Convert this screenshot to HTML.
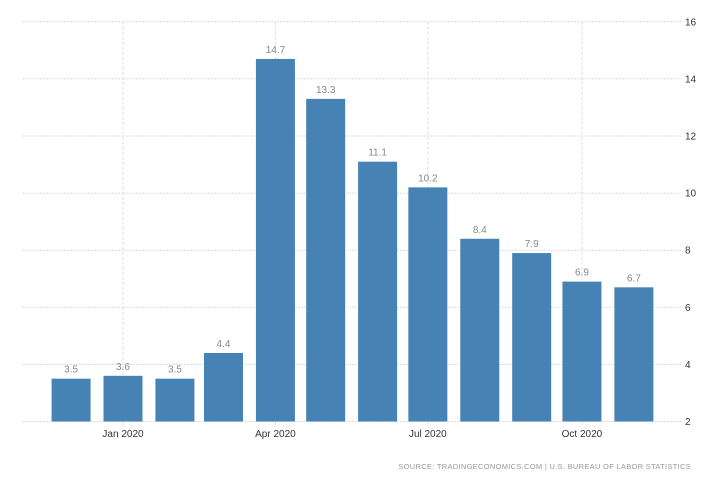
<!DOCTYPE html>
<html><head><meta charset="utf-8"><style>
html,body{margin:0;padding:0;background:#fff;width:728px;height:485px;overflow:hidden}
svg text{font-family:"Liberation Sans",sans-serif}
</style></head><body>
<svg id="chart" width="728" height="485" xmlns="http://www.w3.org/2000/svg">
<g id="grid"></g>
<g id="bars"></g>
<g id="yaxis"></g>
<g id="xaxis"></g>
<text x="691" y="469" text-anchor="end" font-size="7.5" fill="#999" letter-spacing="0.3">SOURCE: TRADINGECONOMICS.COM  |  U.S. BUREAU OF LABOR STATISTICS</text>
</svg>
<script>
const months = ["2019-12","2020-01","2020-02","2020-03","2020-04","2020-05","2020-06","2020-07","2020-08","2020-09","2020-10","2020-11"];
const values = [3.5,3.6,3.5,4.4,14.7,13.3,11.1,10.2,8.4,7.9,6.9,6.7];
const yTicks = [2,4,6,8,10,12,14,16];
const xTickMonths = ["2020-01","2020-04","2020-07","2020-10"];
const xTickLabels = ["Jan 2020","Apr 2020","Jul 2020","Oct 2020"];

const NS="http://www.w3.org/2000/svg";
const y0=421.5, pxPerUnit=28.55, yMin=2;
function y(v){return y0-(v-yMin)*pxPerUnit;}
const base=Date.UTC(2020,0,1);
function x(m){const [a,b]=m.split("-").map(Number);return 123+(Date.UTC(a,b-1,1)-base)/86400000*1.675;}
function mk(t,attrs,parent){const e=document.createElementNS(NS,t);for(const k in attrs)e.setAttribute(k,attrs[k]);parent.appendChild(e);return e;}
const grid=document.getElementById('grid'),bars=document.getElementById('bars'),ya=document.getElementById('yaxis'),xa=document.getElementById('xaxis');
yTicks.forEach(t=>{
  const l=mk('line',{x1:22,x2:682,y1:y(t),y2:y(t),stroke:'#ddd','stroke-dasharray':'2,1'},grid);
  
  
  const tx=mk('text',{x:685,y:y(t)+3.5,'font-size':10,fill:'#333'},ya);
  
  
  tx.textContent=t;
});
xTickMonths.forEach((m,i)=>{
  const l=mk('line',{x1:x(m),x2:x(m),y1:y(16),y2:y(2)+5,stroke:'#ddd','stroke-dasharray':'3,2'},grid);
  
  
  const tx=mk('text',{x:x(m),y:437,'font-size':10,fill:'#333','text-anchor':'middle'},xa);
  
  
  tx.textContent=xTickLabels[i];
});
months.forEach((m,i)=>{
  const cx=x(m),v=values[i];
  const r=mk('rect',{x:cx-19.5,y:y(v),width:39,height:y(yMin)-y(v),fill:'#4682b4'},bars);
  
  
  const tx=mk('text',{x:cx,y:y(v)-6,'font-size':10,fill:'#888','text-anchor':'middle'},bars);
  
  
  tx.textContent=v.toFixed(1);
});
</script>
</body></html>
